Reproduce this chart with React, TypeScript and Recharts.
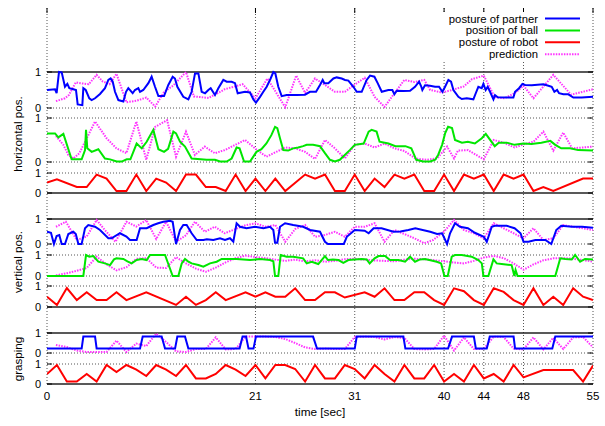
import React from 'react';
import { LineChart, Line, XAxis, YAxis, ReferenceLine, Legend, Customized } from 'recharts';

type P = [number, number];

// ---- data: [time (sec), value] ----
const hPartner: P[] = [[0,.5],[0.81,.52],[0.97,.41],[1.21,1.0],[1.48,.99],[1.81,.59],[2.05,.67],[2.25,.55],[2.65,.52],[2.92,.5],[3.09,.1],[3.56,.08],[3.66,.55],[3.9,.5],[4.26,.27],[4.5,.22],[4.84,.27],[5.34,.39],[5.84,.55],[6.18,.78],[6.41,.82],[6.62,.73],[6.85,.45],[7.19,.22],[7.69,.18],[7.96,.45],[8.19,.55],[8.63,.41],[8.86,.5],[9.2,.55],[9.37,.45],[9.7,.5],[10.21,.69],[10.54,.87],[10.88,.59],[11.22,.33],[11.79,.33],[12.22,.64],[12.66,.87],[12.89,.82],[13.13,.59],[13.73,.31],[14.24,.24],[14.57,.45],[14.91,.96],[15.25,.96],[15.58,.45],[15.92,.41],[16.25,.5],[16.49,.55],[16.92,.36],[17.26,.55],[17.76,.78],[18.1,.73],[18.6,.73],[18.94,.69],[19.21,.41],[19.95,.45],[20.45,.43],[20.79,.24],[21.05,.15],[21.46,.31],[21.79,.45],[22.13,.59],[22.53,.82],[22.8,1.0],[23.0,.96],[23.3,.59],[23.64,.33],[24.14,.36],[25.15,.36],[25.99,.37],[26.49,.45],[27.1,.45],[27.5,.64],[27.77,.78],[27.94,.69],[28.34,.69],[28.85,.82],[29.18,.85],[29.69,.82],[30.02,.78],[30.36,.76],[30.86,.59],[31.2,.45],[31.7,.45],[32.2,.78],[32.54,.9],[32.98,.87],[33.31,.69],[33.72,.45],[34.39,.5],[34.79,.5],[34.99,.38],[35.23,.48],[35.9,.47],[36.57,.48],[37.07,.59],[37.48,.73],[37.68,.61],[37.81,.5],[38.08,.63],[38.58,.62],[39.09,.59],[39.49,.59],[39.83,.45],[40.1,.59],[40.43,.78],[40.7,.73],[40.94,.5],[41.44,.31],[41.78,.25],[42.28,.27],[42.95,.24],[43.19,.41],[43.45,.59],[43.79,.55],[43.96,.67],[44.19,.5],[44.39,.59],[44.63,.45],[44.97,.24],[45.13,.36],[45.4,.3],[46.48,.29],[46.98,.29],[47.15,.45],[47.55,.55],[47.89,.67],[48.16,.64],[48.83,.63],[50.0,.66],[50.51,.62],[50.84,.59],[51.11,.45],[51.38,.5],[51.58,.41],[52.02,.38],[52.52,.38],[53.02,.29],[53.86,.29],[55,.31]];
const hPartnerPred: P[] = [[0.9,.19],[1.8,.27],[2.2,.36],[2.9,.71],[3.6,.68],[4.2,.66],[5.0,.92],[5.6,.74],[6.3,.66],[7.0,.95],[8.0,.16],[9.0,.2],[10.0,.29],[10.9,.04],[11.8,.45],[12.7,.62],[14.0,1.0],[14.8,.32],[16.3,.28],[17.9,.52],[19.7,.66],[21.0,.27],[22.2,.82],[24.0,.02],[25.1,.9],[26.0,.42],[27.0,.82],[28.0,.64],[29.0,.45],[30.0,.45],[30.7,.59],[32.0,.84],[33.0,.31],[34.0,.03],[35.0,.41],[36.0,.78],[37.0,.72],[38.0,.78],[38.6,.5],[39.8,.43],[40.8,.5],[42.0,.6],[42.8,.8],[44.0,.9],[45.1,.3],[46.1,.27],[47.1,.41],[48.0,.62],[49.0,.27],[51.0,.92],[52.8,.37],[55.0,.52]];
const hBall: P[] = [[0,.65],[0.81,.65],[1.14,.56],[1.65,.64],[2.48,.06],[3.49,.06],[3.83,.27],[3.93,.73],[4.06,.31],[4.5,.23],[5.17,.29],[5.84,.08],[6.35,.06],[7.02,.01],[7.52,.01],[8.03,.06],[8.4,.06],[9.03,.42],[9.54,.31],[10.04,.46],[10.71,.73],[11.22,.29],[11.79,.23],[12.2,.3],[12.73,.69],[13.0,.65],[13.4,.46],[13.9,.35],[14.57,.08],[16.08,.05],[16.92,.05],[17.43,.01],[18.1,.01],[18.6,.08],[19.1,.33],[19.4,.31],[19.85,.01],[20.45,.01],[21.1,.23],[21.6,.29],[22.1,.42],[22.6,.61],[22.97,.8],[23.2,.77],[23.47,.54],[23.8,.27],[24.3,.26],[24.8,.31],[25.3,.33],[25.8,.36],[26.16,.39],[26.8,.39],[27.5,.36],[28.0,.2],[28.5,.05],[29.0,.01],[29.5,.05],[30.5,.27],[31.0,.39],[31.9,.42],[32.4,.69],[32.7,.73],[33.2,.69],[33.5,.46],[34.4,.42],[35.1,.36],[36.1,.36],[36.7,.31],[37.2,.05],[37.9,.01],[38.6,.01],[39.1,.05],[39.4,.16],[39.8,.39],[40.1,.65],[40.4,.8],[40.8,.77],[41.1,.5],[41.8,.44],[42.4,.46],[43.1,.42],[43.8,.54],[44.2,.64],[45.1,.36],[45.5,.44],[46.3,.44],[47.1,.39],[48.0,.42],[48.8,.41],[49.8,.44],[50.7,.48],[51.2,.39],[51.8,.31],[52.7,.31],[53.5,.27],[55,.26]];
const hBallPred: P[] = [[0.9,.59],[1.65,.39],[2.15,.16],[2.65,.08],[3.26,.2],[4.84,.92],[6.0,.54],[7.0,.31],[8.0,.2],[9.0,.92],[10.0,.05],[10.9,.8],[12.1,.95],[13.0,.12],[14.0,.69],[14.9,.16],[15.9,.35],[16.9,.2],[17.9,.27],[19.95,.5],[21.0,.3],[22.1,.12],[24.0,.33],[25.0,.31],[26.0,.23],[27.0,.07],[28.0,.5],[29.0,.31],[30.0,.08],[31.0,.39],[32.0,.42],[33.0,.33],[34.0,.42],[35.0,.31],[36.0,.25],[37.1,.08],[38.2,.05],[39.3,.08],[40.3,.35],[41.0,.08],[41.4,.26],[42.4,.27],[44.0,.06],[45.0,.5],[46.0,.44],[47.1,.33],[48.0,.4],[49.0,.46],[50.0,.69],[51.0,.26],[52.0,.67],[52.9,.31],[55,.35]];
const hRobot: P[] = [[0,.52],[1,.69],[3,.3],[4,.3],[5,.92],[6,.72],[7,.1],[8,.1],[9,.92],[10,.1],[11,.72],[12,.52],[13,.1],[14,.92],[15,.92],[16,.3],[17,.3],[18,.1],[19,.92],[20,.1],[21,.72],[22,.1],[23,.72],[24,.1],[26,.92],[27,.72],[28,.92],[29,.1],[30,.1],[31,.92],[32,.1],[33,.72],[34,.3],[35,.92],[36,.72],[37,.92],[38,.1],[39,.1],[40,.92],[41,.1],[42,.92],[43,.72],[44,.92],[45,.1],[46,.92],[47,.72],[48,.92],[49,.1],[50,.3],[51,.1],[54,.72],[55,.72]];

const vPartner: P[] = [[0,.49],[0.4,.45],[0.7,0],[0.97,.32],[1.24,.36],[1.48,0],[1.81,0],[2.15,.4],[2.65,.49],[2.9,.4],[3.16,0],[3.49,0],[3.83,.63],[4.16,.76],[4.84,.69],[5.34,.56],[6.18,.23],[6.5,.23],[7.35,.43],[8.0,.3],[8.36,.16],[9.03,.16],[9.37,.63],[10.04,.63],[10.71,.76],[11.2,.83],[11.72,.89],[12.39,.93],[12.66,.89],[13.0,0],[13.4,.56],[13.73,.76],[14.07,.76],[14.57,.43],[15.08,.16],[15.75,.16],[16.1,.19],[16.76,.16],[17.43,.23],[17.93,.16],[18.43,.23],[18.77,.09],[19.1,.83],[19.44,.69],[20.1,.63],[20.95,.69],[21.8,.63],[22.46,.69],[22.8,.56],[22.97,.05],[23.2,.05],[23.47,.69],[23.98,.83],[24.8,.76],[25.8,.69],[26.5,.56],[27.5,.49],[28.0,.09],[28.3,0],[29.9,0],[30.2,.29],[31.0,.56],[32.0,.53],[32.4,.43],[32.9,.63],[33.7,.63],[34.9,.49],[35.6,.5],[36.4,.56],[37.1,.63],[38.6,.49],[39.3,.4],[39.8,.43],[40.3,0],[40.6,.43],[41.1,.83],[41.6,.69],[42.4,.63],[43.1,.45],[44.0,.29],[44.3,.09],[44.8,.69],[45.1,.73],[46.3,.73],[47.1,.63],[47.7,.43],[48.0,.09],[48.5,.09],[49.2,.16],[50.2,.16],[50.8,0],[51.3,.56],[51.8,.73],[52.9,.69],[53.9,.69],[55,.65]];
const vPartnerPred: P[] = [[0.9,.69],[1.9,.89],[3.0,.16],[4.0,.3],[5.0,.96],[5.8,.57],[6.9,.09],[8.0,.89],[9.0,.7],[10.0,.96],[11.0,.2],[12.0,.89],[13.0,.09],[14.0,.35],[14.9,.89],[15.9,.49],[16.9,.69],[17.9,.43],[19.0,.6],[20.0,.75],[21.0,.83],[22.0,.69],[23.0,.76],[24.0,.09],[25.0,.6],[26.0,.76],[27.0,.29],[28.0,.36],[29.0,.49],[30.0,.29],[31.0,.69],[32.0,.69],[33.0,.83],[34.0,.09],[35.0,.56],[36.0,.4],[37.0,.23],[38.0,.03],[38.9,.16],[40.0,.5],[41.0,.96],[42.0,.56],[43.0,.43],[44.0,.23],[45.0,.83],[46.0,.63],[47.0,.43],[48.0,.23],[49.0,.63],[50.0,.16],[51.0,.23],[52.0,.76],[53.0,.69],[55,.56]];
const vBall: P[] = [[0,0],[3.66,0],[3.93,1.0],[4.26,.92],[4.67,.95],[5.17,.68],[5.84,.6],[6.35,.52],[6.75,.79],[7.0,.84],[7.69,.81],[8.1,.7],[8.53,.6],[9.03,.76],[9.54,.81],[10.04,.76],[10.38,1.0],[11.89,1.0],[12.22,.57],[12.66,0],[13.23,0],[13.57,.6],[13.9,.81],[14.2,.7],[14.57,.6],[15.25,.52],[15.75,.44],[16.42,.6],[17.09,.68],[17.6,.81],[18.43,.81],[19.1,.81],[19.78,.79],[20.45,.76],[21.46,.81],[22.46,.76],[22.8,.7],[22.97,0],[23.3,0],[23.54,1.0],[24.14,.92],[24.8,.92],[25.8,.84],[26.16,.6],[26.66,.68],[27.33,.57],[28.0,.95],[28.3,.76],[28.8,.79],[29.35,.76],[29.85,.63],[30.36,.76],[31.0,.79],[31.7,.81],[32.2,.79],[32.5,.6],[33.0,.84],[33.4,.95],[34.05,.95],[34.55,.76],[35.4,.76],[36.07,.68],[36.57,.92],[37.07,.68],[37.58,.79],[38.08,.81],[39.26,.68],[39.7,.6],[40.03,0],[40.37,0],[40.77,.92],[41.1,1.0],[41.78,1.0],[42.78,.92],[43.45,.76],[43.8,.6],[43.96,0],[44.46,0],[44.97,.79],[45.3,.6],[45.8,.57],[46.8,.52],[47.08,0],[47.2,.29],[47.4,0],[51.2,0],[51.7,.84],[52.2,.81],[52.86,.79],[53.2,1.0],[53.7,.68],[54.2,.81],[55,.79]];
const vBallPred: P[] = [[0.9,.03],[2.0,.13],[3.0,.25],[4.0,.38],[5.0,.92],[6.0,.55],[7.0,.27],[8.0,.42],[9.0,.82],[10.0,.85],[11.0,.4],[12.0,.38],[13.0,.9],[14.0,.6],[15.0,.35],[16.0,.2],[17.0,.4],[18.0,.65],[19.0,.85],[20.0,.97],[21.0,.9],[22.0,.85],[23.0,.78],[24.0,.72],[25.0,.78],[26.0,.7],[27.0,.75],[28.0,.68],[29.0,.72],[30.0,.8],[31.0,.82],[32.0,.78],[33.0,.74],[34.0,.72],[35.0,.7],[36.0,.78],[37.0,.82],[38.0,.8],[39.0,.75],[40.0,.7],[41.0,.64],[42.0,.6],[43.0,.72],[44.0,.88],[45.0,.96],[46.0,.85],[47.0,.6],[48.0,.3],[49.0,.55],[50.0,.75],[51.0,.84],[52.0,.85],[53.0,.82],[54.0,.76],[55.0,.68]];
const vRobot: P[] = [[0,.49],[1,.1],[2,.9],[3,.33],[4,.7],[5,.33],[6,.33],[7,.7],[8,.33],[10,.7],[13,.1],[14,.49],[15,.1],[16,.33],[17,.7],[18,.33],[20,.7],[21,.49],[22,.7],[23,.49],[24,.49],[25,.89],[26,.33],[27,.33],[28,.7],[29,.7],[30,.45],[32,.7],[33,.49],[34,.89],[35,.33],[36,.33],[37,.7],[38,.7],[39,.33],[40,.1],[41,.89],[42,.75],[43,.33],[44,.1],[45,.89],[46,.72],[47,.33],[48,.1],[49,.89],[50,.1],[51,.49],[52,.1],[53,.89],[54,.49],[55,.33]];

const gPartner: P[] = [[0,.22],[3.49,.22],[3.66,.82],[4.84,.82],[5.0,.22],[9.37,.22],[9.64,.82],[11.55,.82],[11.89,.22],[12.9,.22],[13.13,.82],[13.9,.82],[14.24,.22],[19.4,.22],[19.7,.82],[20.05,.82],[20.3,.22],[20.8,.22],[21.05,.82],[26.8,.82],[27.2,.22],[31.0,.22],[31.2,.82],[35.9,.82],[36.1,.22],[40.4,.22],[40.8,.82],[43.0,.82],[43.2,.22],[44.3,.22],[44.6,.82],[47.0,.82],[47.15,.22],[50.9,.22],[51.2,.82],[55,.82]];
const gPartnerPred: P[] = [[0.9,.4],[2,.3],[3,.12],[4,.05],[5,.05],[6,.05],[7,.62],[8,.05],[9,.47],[10,.35],[11,.97],[12,.55],[13,.08],[14,.05],[15,.2],[16,.2],[17,.78],[18,.18],[19,.2],[20,.82],[21,.82],[22,.82],[23,.8],[24,.7],[25,.5],[26,.28],[27,.2],[28,.22],[29,.2],[30,.2],[31,.8],[32,.82],[33,.8],[34,.68],[35,.8],[36,.75],[37,.2],[38,.18],[39,.2],[40,.87],[41,.12],[42,.78],[43,.2],[44,.2],[45,.82],[46,.8],[47,.22],[48,.18],[49,.78],[50,.18],[51,.76],[52,.2],[53,.78],[54,.8],[55,.28]];
const gRobot: P[] = [[0,.5],[1,.95],[2,.12],[3,.12],[4,.5],[5,.12],[6,.95],[7,.6],[8,.95],[9,.72],[10,.4],[11,.95],[12,.72],[13,.4],[14,.95],[15,.28],[16,.28],[17,.5],[18,.95],[19,.72],[20,.4],[21,.95],[22,.28],[23,.95],[24,.95],[25,.75],[26,.12],[27,.95],[28,.28],[29,.28],[30,.95],[31,.75],[32,.28],[33,.95],[34,.5],[35,.12],[36,.95],[37,.28],[38,.28],[39,.95],[40,.12],[41,.5],[42,.12],[43,.95],[44,.28],[45,.5],[46,.12],[47,.95],[48,.33],[50,.7],[53,.7],[54,.12],[55,.92]];

const xTicks = [0, 21, 31, 40, 44, 48, 55];
const yTicks = [0, 1];
const legendLabels = ['posture of partner', 'position of ball', 'posture of robot', 'prediction'];
const yTitles = ['horizontal pos.', 'vertical pos.', 'grasping'];
const xTitle = 'time [sec]';

// ---- layout / style ----
const FONT = '"Liberation Sans", Arial, Helvetica, sans-serif';
const W = 605, H = 426;
const TOP = 8, BOT = 384;
const MARGIN = { top: TOP, right: 12, left: 47, bottom: 12 };
const XAXIS_H = 30;

const BLUE = '#0000ff', GREEN = '#00e600', RED = '#ff0000', MAG = '#ff33ff';

// pixel rows for value 1 and 0 of each panel, and which edge is solid
const panels = [
  { id: 'p1', y1: 72, y0: 108, solid1: true, solid0: false },
  { id: 'p2', y1: 118, y0: 162, solid1: false, solid0: false },
  { id: 'p3', y1: 173, y0: 193, solid1: false, solid0: true },
  { id: 'p4', y1: 219, y0: 244, solid1: true, solid0: false },
  { id: 'p5', y1: 255, y0: 276, solid1: false, solid0: false },
  { id: 'p6', y1: 286, y0: 307, solid1: false, solid0: true },
  { id: 'p7', y1: 333, y0: 353, solid1: true, solid0: false },
  { id: 'p8', y1: 364, y0: 384, solid1: false, solid0: true },
];
const valAt = (p: { y1: number; y0: number }, px: number) => (p.y0 - px) / (p.y0 - p.y1);

const series = [
  { key: 'a', data: hPartnerPred, panel: 'p1', color: MAG, dashed: true },
  { key: 'b', data: hPartner, panel: 'p1', color: BLUE, dashed: false },
  { key: 'c', data: hBallPred, panel: 'p2', color: MAG, dashed: true },
  { key: 'd', data: hBall, panel: 'p2', color: GREEN, dashed: false },
  { key: 'e', data: hRobot, panel: 'p3', color: RED, dashed: false },
  { key: 'f', data: vPartnerPred, panel: 'p4', color: MAG, dashed: true },
  { key: 'g', data: vPartner, panel: 'p4', color: BLUE, dashed: false },
  { key: 'h', data: vBallPred, panel: 'p5', color: MAG, dashed: true },
  { key: 'i', data: vBall, panel: 'p5', color: GREEN, dashed: false },
  { key: 'j', data: vRobot, panel: 'p6', color: RED, dashed: false },
  { key: 'k', data: gPartnerPred, panel: 'p7', color: MAG, dashed: true },
  { key: 'l', data: gPartner, panel: 'p7', color: BLUE, dashed: false },
  { key: 'm', data: gRobot, panel: 'p8', color: RED, dashed: false },
];
const legendColors = [BLUE, GREEN, RED, MAG];

const toRows = (d: P[]) => d.map(([t, v]) => ({ t, v }));

const LegendBox = () => (
  <svg width={152} height={50} style={{ display: 'block', background: '#fff' }}>
    {legendLabels.map((l, i) => {
      const y = 6.5 + i * 11.9;
      return (
        <g key={l}>
          <text x={100} y={y + 4} textAnchor="end" fontSize={11.3} fontFamily={FONT} fill="#000">{l}</text>
          <line x1={107} x2={142} y1={y} y2={y} stroke={legendColors[i]} strokeWidth={2}
            strokeDasharray={i === 3 ? '1.5 1.2' : undefined} />
        </g>
      );
    })}
  </svg>
);

const YTitles = () => (
  <g>
    {yTitles.map((t, i) => {
      const cy = [134, 262, 359][i];
      return (
        <text key={t} x={22} y={cy} transform={`rotate(-90 22 ${cy})`} textAnchor="middle"
          fontSize={11.6} fontFamily={FONT} fill="#000">{t}</text>
      );
    })}
  </g>
);

export default function App() {
  const dot = { stroke: '#555', strokeWidth: 1, strokeDasharray: '1 2' };
  const solid = { stroke: '#222', strokeWidth: 1.5 };
  const p8 = panels[7];
  return (
    <div style={{ position: 'absolute', left: 0, top: 0, width: W, height: H, background: '#fff' }}>
      <LineChart width={W} height={H} margin={MARGIN}>
        <XAxis xAxisId={0} type="number" dataKey="t" domain={[0, 55]} allowDataOverflow ticks={xTicks}
          interval={0} tickLine={false} axisLine={false} height={XAXIS_H}
          tick={{ fill: '#000', fontSize: 11.5, fontFamily: FONT }}
          label={{ value: xTitle, position: 'insideBottom', offset: -2, fill: '#000', fontSize: 11.8, fontFamily: FONT }} />
        {panels.map((p) => (
          <YAxis key={p.id} yAxisId={p.id} hide type="number" allowDataOverflow
            domain={[valAt(p, BOT), valAt(p, TOP)]} />
        ))}
        {xTicks.map((x) => (
          <ReferenceLine key={'vx' + x} x={x} yAxisId="p8" {...dot} />
        ))}
        {xTicks.map((x) => (
          <ReferenceLine key={'tt' + x} yAxisId="p8" stroke="#000" strokeWidth={1}
            segment={[{ x, y: valAt(p8, TOP) }, { x, y: valAt(p8, TOP + 5) }]} />
        ))}
        {panels.flatMap((p) =>
          yTicks.map((v) => {
            const isSolid = v === 1 ? p.solid1 : p.solid0;
            return (
              <ReferenceLine key={p.id + 'h' + v} y={v} yAxisId={p.id} {...(isSolid ? solid : dot)}
                label={{ value: String(v), position: 'left', offset: 6, fill: '#000', fontSize: 11, fontFamily: FONT }} />
            );
          })
        )}
        {panels.flatMap((p) =>
          yTicks.flatMap((v) => [
            <ReferenceLine key={p.id + 'tl' + v} yAxisId={p.id} stroke="#000" strokeWidth={1}
              segment={[{ x: 0, y: v }, { x: 0.5, y: v }]} />,
            <ReferenceLine key={p.id + 'tr' + v} yAxisId={p.id} stroke="#000" strokeWidth={1}
              segment={[{ x: 54.5, y: v }, { x: 55, y: v }]} />,
          ])
        )}
        {series.map((s) => (
          <Line key={s.key} data={toRows(s.data)} dataKey="v" yAxisId={s.panel} type="linear"
            stroke={s.color} strokeWidth={2} strokeDasharray={s.dashed ? '1.5 1.2' : undefined}
            dot={false} activeDot={false} isAnimationActive={false} legendType="none" />
        ))}
        <Legend layout="vertical" align="center" verticalAlign="middle"
          wrapperStyle={{ left: 438, top: 12, width: 152, height: 50, background: '#fff' }}
          content={() => <LegendBox />} />
        <Customized component={YTitles} />
      </LineChart>
    </div>
  );
}
